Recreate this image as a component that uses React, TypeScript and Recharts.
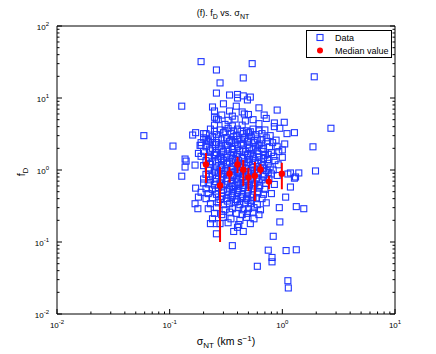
import { ScatterChart, Scatter, XAxis, YAxis, ErrorBar, Legend } from "recharts";

const FONT = "'Liberation Sans', Arial, Helvetica, sans-serif";
const BLUE = "#1f36ff";
const RED = "#ff0000";

// [sigma_NT (km s^-1), f_D]
const upperPoints: [number, number][] = [
  [0.19, 32], [0.54, 30], [0.26, 24.5], [0.45, 19], [1.92, 19.7], [0.28, 16.2],
  [0.26, 11.7], [0.34, 11], [0.4, 11.2], [0.4, 10], [0.45, 10.7], [0.52, 10.3],
  [0.49, 9.4], [0.3, 8.3], [0.128, 7.7], [0.24, 7.5], [0.39, 7.7], [0.62, 7.3],
  [0.9, 6.8], [0.25, 6.6], [0.34, 6.6], [0.44, 6.4], [0.46, 6.0], [0.69, 5.8],
  [0.25, 5.4], [0.26, 5.1], [0.85, 4.5], [1.04, 4.6],
];

const rightPoints: [number, number][] = [
  [2.7, 3.8], [1.28, 3.3], [1.87, 2.1], [1.0, 1.9], [1.97, 0.97], [1.4, 0.91],
  [1.18, 0.91], [1.31, 0.8], [1.12, 0.88], [1.28, 0.77], [1.18, 0.58], [1.07, 0.42],
  [1.33, 0.31], [1.55, 0.29], [0.94, 0.3], [0.95, 0.19],
];

const leftPoints: [number, number][] = [
  [0.059, 3.0], [0.107, 2.15], [0.16, 3.06], [0.17, 3.3], [0.2, 3.2], [0.21, 2.7],
  [0.23, 2.7], [0.19, 2.2], [0.24, 2.4], [0.137, 1.42], [0.137, 1.1], [0.128, 0.82],
  [0.168, 1.17], [0.17, 0.56], [0.168, 0.34], [0.178, 0.29], [0.18, 0.42], [0.18, 1.7],
  [0.2, 0.66], [0.19, 0.49], [0.186, 2.2], [0.14, 1.33],
];

const lowerPoints: [number, number][] = [
  [0.23, 0.18], [0.26, 0.18], [0.26, 0.13], [0.36, 0.089], [0.37, 0.14], [0.45, 0.14],
  [0.4, 0.16], [0.6, 0.046], [0.83, 0.12], [0.75, 0.077], [0.81, 0.061], [0.81, 0.053],
  [1.08, 0.076], [1.33, 0.078], [1.12, 0.029], [1.13, 0.023],
];

const corePoints: [number, number][] = [
  [0.29, 5.8], [0.36, 5.6], [0.5, 5.9],
  [0.27, 5.0], [0.33, 4.9], [0.38, 5.1], [0.47, 4.8], [0.55, 5.0], [0.72, 5.2],
  [0.25, 4.2], [0.31, 4.3], [0.36, 4.1], [0.44, 4.2], [0.62, 4.4], [0.85, 4.0],
  [0.23, 3.7], [0.28, 3.6], [0.33, 3.8], [0.4, 3.7], [0.48, 3.5], [0.55, 3.7], [0.7, 3.6], [0.95, 3.8],
  [0.21, 3.2], [0.26, 3.1], [0.3, 3.3], [0.35, 3.2], [0.39, 3.0], [0.45, 3.2], [0.5, 3.3],
  [0.58, 3.1], [0.66, 3.2], [0.78, 3.0], [1.1, 3.2],
  [0.2, 2.8], [0.24, 2.9], [0.27, 2.7], [0.32, 2.8], [0.37, 2.9], [0.42, 2.7], [0.46, 2.8],
  [0.53, 2.9], [0.6, 2.7], [0.72, 2.8], [0.88, 2.6],
  [0.19, 2.4], [0.22, 2.5], [0.26, 2.4], [0.29, 2.3], [0.34, 2.5], [0.38, 2.4], [0.43, 2.3],
  [0.49, 2.5], [0.56, 2.4], [0.63, 2.3], [0.74, 2.5], [0.82, 2.4], [1.05, 2.3],
  [0.21, 2.1], [0.24, 2.0], [0.28, 2.1], [0.31, 2.2], [0.36, 2.0], [0.4, 2.1], [0.45, 2.2],
  [0.51, 2.0], [0.58, 2.1], [0.66, 2.0], [0.77, 2.1], [0.9, 2.1],
  [0.2, 1.8], [0.23, 1.85], [0.26, 1.75], [0.3, 1.8], [0.33, 1.9], [0.37, 1.75], [0.42, 1.85],
  [0.47, 1.8], [0.52, 1.7], [0.6, 1.85], [0.68, 1.8], [0.8, 1.75], [0.93, 1.8],
  [0.19, 1.55], [0.22, 1.5], [0.25, 1.6], [0.28, 1.55], [0.32, 1.5], [0.35, 1.6], [0.39, 1.55],
  [0.44, 1.5], [0.49, 1.6], [0.55, 1.55], [0.62, 1.5], [0.7, 1.6], [0.84, 1.55], [1.0, 1.5],
  [0.21, 1.35], [0.24, 1.3], [0.27, 1.4], [0.3, 1.35], [0.34, 1.3], [0.38, 1.4], [0.41, 1.35],
  [0.46, 1.3], [0.51, 1.4], [0.57, 1.35], [0.65, 1.3], [0.74, 1.4], [0.86, 1.35],
  [0.2, 1.15], [0.23, 1.2], [0.26, 1.1], [0.29, 1.15], [0.32, 1.2], [0.36, 1.12], [0.4, 1.18],
  [0.44, 1.1], [0.48, 1.15], [0.54, 1.2], [0.6, 1.12], [0.67, 1.15], [0.78, 1.1], [0.92, 1.18],
  [0.22, 1.0], [0.25, 0.97], [0.28, 1.03], [0.31, 0.98], [0.35, 1.02], [0.38, 0.96], [0.42, 1.0],
  [0.47, 1.04], [0.52, 0.97], [0.57, 1.0], [0.64, 1.03], [0.72, 0.98], [0.83, 1.0],
  [0.21, 0.87], [0.24, 0.85], [0.27, 0.9], [0.3, 0.86], [0.33, 0.88], [0.37, 0.84], [0.41, 0.89],
  [0.45, 0.86], [0.5, 0.88], [0.55, 0.85], [0.61, 0.9], [0.69, 0.86], [0.8, 0.88], [0.9, 0.84],
  [0.2, 0.75], [0.23, 0.73], [0.26, 0.77], [0.29, 0.74], [0.32, 0.76], [0.36, 0.72], [0.39, 0.75],
  [0.43, 0.78], [0.48, 0.73], [0.53, 0.75], [0.59, 0.77], [0.66, 0.73], [0.76, 0.75],
  [0.22, 0.64], [0.25, 0.62], [0.28, 0.66], [0.31, 0.63], [0.35, 0.65], [0.38, 0.61], [0.42, 0.64],
  [0.46, 0.66], [0.51, 0.62], [0.57, 0.64], [0.63, 0.61], [0.71, 0.65], [0.85, 0.63],
  [0.21, 0.55], [0.24, 0.54], [0.27, 0.57], [0.3, 0.53], [0.34, 0.56], [0.37, 0.54], [0.41, 0.55],
  [0.45, 0.57], [0.5, 0.53], [0.55, 0.55], [0.62, 0.56], [0.7, 0.54],
  [0.22, 0.47], [0.26, 0.46], [0.29, 0.48], [0.33, 0.45], [0.36, 0.47], [0.4, 0.49], [0.44, 0.46],
  [0.49, 0.47], [0.54, 0.45], [0.6, 0.48], [0.68, 0.46], [0.8, 0.47],
  [0.21, 0.4], [0.24, 0.41], [0.28, 0.39], [0.32, 0.4], [0.35, 0.42], [0.39, 0.39], [0.43, 0.41],
  [0.48, 0.4], [0.53, 0.38], [0.59, 0.41], [0.66, 0.4],
  [0.23, 0.34], [0.27, 0.35], [0.3, 0.33], [0.34, 0.34], [0.38, 0.36], [0.42, 0.33], [0.47, 0.35],
  [0.52, 0.34], [0.6, 0.33], [0.72, 0.35],
  [0.22, 0.29], [0.26, 0.3], [0.31, 0.28], [0.36, 0.29], [0.41, 0.3], [0.45, 0.28], [0.5, 0.29],
  [0.56, 0.3], [0.64, 0.28],
  [0.25, 0.25], [0.29, 0.24], [0.34, 0.26], [0.39, 0.25], [0.44, 0.24], [0.49, 0.25], [0.55, 0.26],
  [0.62, 0.24],
  [0.24, 0.21], [0.3, 0.22], [0.35, 0.21], [0.42, 0.2], [0.48, 0.22], [0.56, 0.21],
  [0.28, 0.18], [0.33, 0.185], [0.41, 0.175], [0.52, 0.18],
];

// the packed middle of the cloud, between the rows above
const denseCore: [number, number][] = [
  [0.25, 3.45], [0.31, 3.4], [0.37, 3.5], [0.43, 3.45], [0.52, 3.4], [0.62, 3.5],
  [0.22, 2.6], [0.29, 2.62], [0.35, 2.58], [0.4, 2.64], [0.5, 2.6], [0.57, 2.55], [0.66, 2.62],
  [0.255, 2.25], [0.325, 2.2], [0.4, 2.28], [0.495, 2.24], [0.61, 2.2],
  [0.225, 1.95], [0.29, 1.97], [0.36, 1.93], [0.445, 1.96], [0.55, 1.94], [0.68, 1.97],
  [0.255, 1.65], [0.325, 1.67], [0.4, 1.64], [0.495, 1.66], [0.61, 1.68], [0.75, 1.65],
  [0.225, 1.45], [0.29, 1.44], [0.36, 1.47], [0.445, 1.44], [0.55, 1.46], [0.68, 1.44],
  [0.255, 1.25], [0.325, 1.26], [0.4, 1.24], [0.495, 1.26], [0.61, 1.25], [0.75, 1.24],
  [0.225, 1.07], [0.29, 1.08], [0.36, 1.06], [0.445, 1.07], [0.55, 1.08], [0.68, 1.06],
  [0.255, 0.93], [0.325, 0.94], [0.4, 0.92], [0.495, 0.93], [0.61, 0.94], [0.75, 0.92],
  [0.225, 0.81], [0.29, 0.8], [0.36, 0.82], [0.445, 0.81], [0.55, 0.8], [0.68, 0.82],
  [0.255, 0.69], [0.325, 0.7], [0.4, 0.68], [0.495, 0.69], [0.61, 0.7],
  [0.29, 0.6], [0.36, 0.59], [0.445, 0.61], [0.55, 0.6],
  [0.255, 0.51], [0.325, 0.5], [0.4, 0.52], [0.495, 0.51], [0.61, 0.5],
  [0.29, 0.43], [0.36, 0.44], [0.445, 0.43], [0.55, 0.42],
  [0.325, 0.37], [0.4, 0.37], [0.495, 0.38],
];

// binned medians with their spread
const medianSigma = [0.21, 0.28, 0.34, 0.4, 0.45, 0.5, 0.57, 0.64, 0.76, 0.99];
const medianFd = [1.19, 0.61, 0.89, 1.19, 1.01, 0.79, 0.83, 1.02, 0.69, 0.89];
const medianLow = [0.66, 0.1, 0.67, 0.91, 0.6, 0.51, 0.37, 0.87, 0.54, 0.54];
const medianHigh = [1.72, 1.1, 1.1, 1.52, 1.38, 1.07, 1.29, 1.21, 0.83, 1.26];

const xTickValues = [
  0.01, 0.02, 0.03, 0.04, 0.05, 0.06, 0.07, 0.08, 0.09,
  0.1, 0.2, 0.3, 0.4, 0.5, 0.6, 0.7, 0.8, 0.9,
  1, 2, 3, 4, 5, 6, 7, 8, 9, 10,
];
const yTickValues = [
  0.01, 0.02, 0.03, 0.04, 0.05, 0.06, 0.07, 0.08, 0.09,
  0.1, 0.2, 0.3, 0.4, 0.5, 0.6, 0.7, 0.8, 0.9,
  1, 2, 3, 4, 5, 6, 7, 8, 9,
  10, 20, 30, 40, 50, 60, 70, 80, 90, 100,
];

const dataRows = [
  ...upperPoints,
  ...rightPoints,
  ...leftPoints,
  ...lowerPoints,
  ...corePoints,
  ...denseCore,
].map(([x, y]) => ({ x, y }));

const medianRows = medianSigma.map((s, i) => ({
  x: s,
  y: medianFd[i],
  err: [medianFd[i] - medianLow[i], medianHigh[i] - medianFd[i]],
}));

// matlab-style inward ticks, labels only on decades
function makeTick(side: string, showLabel: boolean) {
  return (props: any) => {
    const { x, y, payload } = props;
    const p = Math.log10(payload.value);
    const major = Math.abs(p - Math.round(p)) < 1e-6;
    const len = major ? 5 : 2.5;
    const exp = String(Math.round(p));
    let x2 = x;
    let y2 = y;
    if (side === "bottom") y2 = y - len;
    if (side === "top") y2 = y + len;
    if (side === "left") x2 = x + len;
    if (side === "right") x2 = x - len;
    return (
      <g>
        <line x1={x} y1={y} x2={x2} y2={y2} stroke="#000" strokeWidth={1} />
        {showLabel && major && side === "bottom" && (
          <text x={x} y={y + 14} textAnchor="middle" fontFamily={FONT} fontSize={8} fill="#000">
            <tspan>10</tspan>
            <tspan dy={-4.5} fontSize={6}>{exp}</tspan>
          </text>
        )}
        {showLabel && major && side === "left" && (
          <text x={x - 8} y={y + 4} textAnchor="end" fontFamily={FONT} fontSize={8} fill="#000">
            <tspan>10</tspan>
            <tspan dy={-4.5} fontSize={6}>{exp}</tspan>
          </text>
        )}
      </g>
    );
  };
}

const ChartTitle = (props: any) => {
  const vb = props.viewBox || { x: 57, y: 0, width: 338, height: 26 };
  return (
    <text x={vb.x + vb.width / 2 - 3} y={16} textAnchor="middle" fontFamily={FONT} fontSize={9} fill="#000">
      (f). f<tspan dy={2.5} fontSize={7}>D</tspan>
      <tspan dy={-2.5}> vs. σ</tspan>
      <tspan dy={2.5} fontSize={7}>NT</tspan>
    </text>
  );
};

const XTitle = (props: any) => {
  const vb = props.viewBox || { x: 57, y: 314, width: 338, height: 40 };
  return (
    <text x={vb.x + vb.width / 2} y={345} textAnchor="middle" fontFamily={FONT} fontSize={10.5} fill="#000">
      σ<tspan dy={3} fontSize={8}>NT</tspan>
      <tspan dy={-3}> (km s</tspan>
      <tspan dy={-4} fontSize={8}>−1</tspan>
      <tspan dy={4}>)</tspan>
    </text>
  );
};

const YTitle = () => (
  <text
    x={25}
    y={172}
    transform="rotate(-90, 25, 172)"
    textAnchor="middle"
    fontFamily={FONT}
    fontSize={10.5}
    fill="#000"
  >
    f<tspan dy={3} fontSize={8}>D</tspan>
  </text>
);

const renderSquare = (props: any) => {
  const { cx, cy } = props;
  if (cx == null || cy == null) return <g />;
  return <rect x={cx - 3} y={cy - 3} width={6} height={6} fill="none" stroke={BLUE} strokeWidth={1.1} />;
};

const renderDot = (props: any) => {
  const { cx, cy } = props;
  if (cx == null || cy == null) return <g />;
  return <circle cx={cx} cy={cy} r={3.2} fill={RED} />;
};

const renderLegend = () => (
  <div
    style={{
      width: 86,
      height: 28,
      boxSizing: "border-box",
      border: "1px solid #000",
      background: "#fff",
      fontFamily: FONT,
      fontSize: 9,
      color: "#000",
      whiteSpace: "nowrap",
    }}
  >
    <div style={{ display: "flex", alignItems: "center", height: 13 }}>
      <svg width={28} height={13}>
        <rect x={10} y={3.5} width={6} height={6} fill="none" stroke={BLUE} strokeWidth={1.1} />
      </svg>
      <span>Data</span>
    </div>
    <div style={{ display: "flex", alignItems: "center", height: 13 }}>
      <svg width={28} height={13}>
        <circle cx={13} cy={6.5} r={3} fill={RED} />
      </svg>
      <span>Median value</span>
    </div>
  </div>
);

export default function App() {
  return (
    <div style={{ position: "absolute", left: 0, top: 0, background: "#fff" }}>
      <ScatterChart width={436} height={354} margin={{ top: 0, right: 0, bottom: 0, left: 0 }}>
        <XAxis
          xAxisId="b"
          dataKey="x"
          type="number"
          scale="log"
          domain={[0.01, 10]}
          allowDataOverflow
          ticks={xTickValues}
          interval={0}
          tickSize={0}
          tickMargin={0}
          tickLine={false}
          axisLine={{ stroke: "#000" }}
          tick={makeTick("bottom", true)}
          orientation="bottom"
          height={40}
          label={<XTitle />}
        />
        <XAxis
          xAxisId="t"
          type="number"
          scale="log"
          domain={[0.01, 10]}
          allowDataOverflow
          ticks={xTickValues}
          interval={0}
          tickSize={0}
          tickMargin={0}
          tickLine={false}
          axisLine={{ stroke: "#000" }}
          tick={makeTick("top", false)}
          orientation="top"
          height={26}
          label={<ChartTitle />}
        />
        <YAxis
          yAxisId="l"
          dataKey="y"
          type="number"
          scale="log"
          domain={[0.01, 100]}
          allowDataOverflow
          ticks={yTickValues}
          interval={0}
          tickSize={0}
          tickMargin={0}
          tickLine={false}
          axisLine={{ stroke: "#000" }}
          tick={makeTick("left", true)}
          orientation="left"
          width={57}
          label={<YTitle />}
        />
        <YAxis
          yAxisId="r"
          type="number"
          scale="log"
          domain={[0.01, 100]}
          allowDataOverflow
          ticks={yTickValues}
          interval={0}
          tickSize={0}
          tickMargin={0}
          tickLine={false}
          axisLine={{ stroke: "#000" }}
          tick={makeTick("right", false)}
          orientation="right"
          width={41}
        />
        <Legend
          content={renderLegend}
          layout="horizontal"
          verticalAlign="middle"
          align="center"
          wrapperStyle={{ left: 306, top: 30, width: 86, height: 28 }}
        />
        <Scatter
          name="Data"
          xAxisId="b"
          yAxisId="l"
          data={dataRows}
          shape={renderSquare}
          isAnimationActive={false}
          zIndex={300}
        />
        <Scatter
          name="Median value"
          xAxisId="b"
          yAxisId="l"
          data={medianRows}
          fill={RED}
          shape={renderDot}
          isAnimationActive={false}
          zIndex={900}
        >
          <ErrorBar
            dataKey="err"
            direction="y"
            width={0}
            stroke={RED}
            strokeWidth={2}
            isAnimationActive={false}
            zIndex={800}
          />
        </Scatter>
      </ScatterChart>
    </div>
  );
}
